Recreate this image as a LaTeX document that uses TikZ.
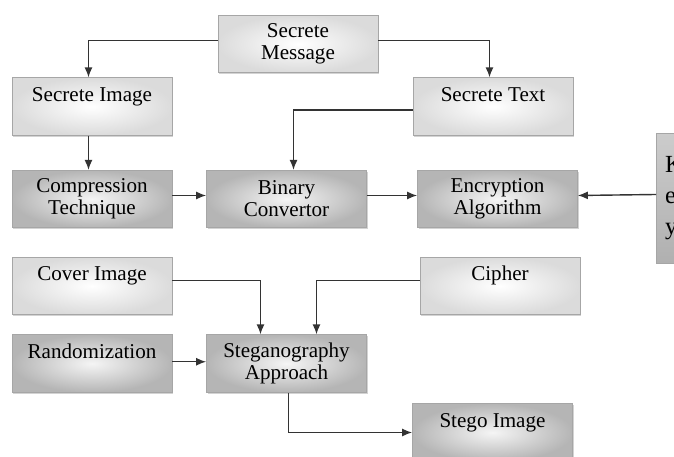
\documentclass[tikz,border=0pt]{standalone}
\usepackage{fontspec}
\setmainfont{Liberation Serif}
\usepackage{tikz}
\usetikzlibrary{arrows.meta, shadows}

\begin{document}
\begin{tikzpicture}[
    box/.style={draw=gray!70, line width=0.4pt, minimum width=3.2cm, minimum height=1.15cm, align=center,
        font=\fontsize{12}{12.5}\selectfont, inner sep=2pt,
        drop shadow={opacity=0.35, shadow xshift=0.6pt, shadow yshift=-0.8pt}},
    lightbox/.style={box, shading=radial, inner color=white, outer color=gray!28},
    darkbox/.style={box, shading=radial, inner color=gray!8, outer color=gray!58},
    toptext/.style={text height=9pt, text depth=15pt},
    keybox/.style={draw=gray!70, anchor=west, minimum height=2.6cm, text width=1.2cm, align=left,
        inner sep=5pt, top color=gray!40, bottom color=gray!62, font=\fontsize{14}{17.5}\selectfont},
    arrow/.style={-{Latex[length=2mm, width=1.6mm]}, line width=0.8pt, draw=black!80}
]
    \useasboundingbox (0,0) rectangle (13.48,-9.12);

    % top part
    \node[lightbox] (msg) at (5.96,-0.88) {Secrete\\Message};
    \node[lightbox, toptext] (img) at (1.84,-2.13) {Secrete Image};
    \node[lightbox, toptext] (txt) at (9.86,-2.13) {Secrete Text};

    \node[darkbox] (comp) at (1.84,-3.98) {Compression\\Technique};
    \node[darkbox] (bin) at (5.73,-3.98) {Binary\\Convertor};
    \node[darkbox] (enc) at (9.95,-3.98) {Encryption\\Algorithm};
    \node[keybox] (key) at (13.12,-3.96) {K\\e\\y};

    % bottom part
    \node[lightbox, toptext] (cover) at (1.84,-5.72) {Cover Image};
    \node[lightbox, toptext] (cipher) at (10.0,-5.72) {Cipher};
    \node[darkbox, toptext] (rand) at (1.84,-7.27) {Randomization};
    \node[darkbox] (steg) at (5.73,-7.27) {Steganography\\Approach};
    \node[darkbox, toptext] (stego) at (9.85,-8.65) {Stego Image};

    \draw[arrow] ([yshift=2pt]msg.west) -| ([xshift=-2pt]img.north);
    \draw[arrow] ([yshift=2pt]msg.east) -| ([xshift=-2pt]txt.north);
    \draw[arrow] ([xshift=-2pt]img.south) -- ([xshift=-2pt]comp.north);
    \draw[arrow] ([yshift=-2pt]txt.west) -| ([xshift=4pt]bin.north);
    \draw[arrow] ([yshift=2pt]comp.east) -- ([yshift=2pt]bin.west);
    \draw[arrow] ([yshift=2pt]bin.east) -- ([yshift=2pt]enc.west);
    \draw[arrow] ([yshift=2pt]key.west) -- ([yshift=2pt]enc.east);

    \draw[arrow] ([yshift=3pt]cover.east) -| ([xshift=-0.52cm]steg.north);
    \draw[arrow] ([yshift=3pt]cipher.west) -| ([xshift=0.6cm]steg.north);
    \draw[arrow] ([yshift=1pt]rand.east) -- ([yshift=1pt]rand.east -| steg.west);
    \draw[arrow] ([xshift=1pt]steg.south) |- (stego.west);
\end{tikzpicture}
\end{document}
